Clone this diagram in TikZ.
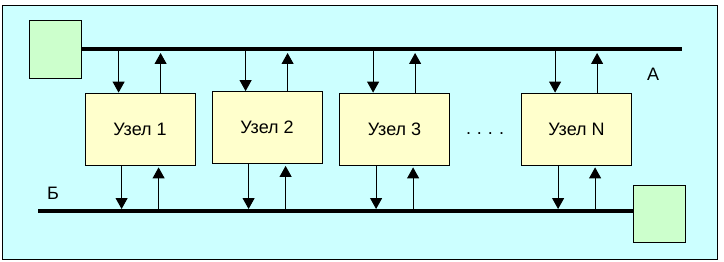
\documentclass[tikz,border=0pt]{standalone}
\usepackage{fontspec}
\setmainfont{Liberation Sans}
\usetikzlibrary{arrows.meta, positioning}
\definecolor{field}  {HTML}{CCFFFF}
\definecolor{unit}   {HTML}{FFFFCC}
\definecolor{outer}  {HTML}{CCFFCC}

\tikzset{
  busline/.style={line width=4pt},
  unitbox/.style={draw, fill=unit, line width=0.8pt, inner sep=0pt,
    minimum width=110pt, minimum height=72pt,
    font=\fontsize{18}{20}\selectfont},
  extbox/.style={draw, fill=outer, line width=0.8pt, inner sep=0pt,
    minimum width=52pt, minimum height=58pt},
  sig/.style={line width=1pt, -{Triangle[length=11pt, width=12pt]}},
  tag/.style={font=\fontsize{18}{20}\selectfont},
}

\begin{document}
\begin{tikzpicture}[x=1pt, y=-1pt]
    \useasboundingbox (0, 0) rectangle (724, 262);
    \draw[fill=field, line width=0.8pt] (2, 5) rectangle (717, 259);

    % --- outer devices and the two buses ------------------------------------
    \node[extbox] (extA) at (55, 49) {};
    \node[extbox, minimum height=57pt] (extB) at (659, 213.5) {};
    \coordinate (busAend)   at (682, 49);
    \coordinate (busBstart) at (38, 211);
    \draw[busline] (extA.east) -- (busAend);
    \draw[busline] (busBstart) -- (busBstart -| extB.west);
    \node[tag] (labA) at (653, 74) {А};
    \node[tag] (labB) at (53, 193) {Б};

    % --- the nodes -----------------------------------------------------------
    \node[unitbox] (n1) at (140, 129)   {Узел 1};
    \node[unitbox] (n2) at (267, 127.5) {Узел 2};
    \node[unitbox] (n3) at (394.5, 129) {Узел 3};
    \node[unitbox] (nN) at (576.5, 129) {Узел N};
    \node[tag, anchor=base] (gap) at (485, 135) {.\,\,.\,\,.\,\,.};

    % --- links to both buses -------------------------------------------------
    \foreach \n in {n1, n2, n3, nN} {
      \draw[sig] ([xshift=34pt]\n.north west |- busAend)
        -- ([xshift=34pt]\n.north west);
      \draw[sig, shorten >=4pt] ([xshift=76pt]\n.north west)
        -- ([xshift=76pt]\n.north west |- busAend);
      \draw[sig, shorten >=2pt] ([xshift=37pt]\n.south west)
        -- ([xshift=37pt]\n.south west |- busBstart);
      \draw[sig, shorten >=2pt] ([xshift=74pt]\n.south west |- busBstart)
        -- ([xshift=74pt]\n.south west);
    }
\end{tikzpicture}
\end{document}
